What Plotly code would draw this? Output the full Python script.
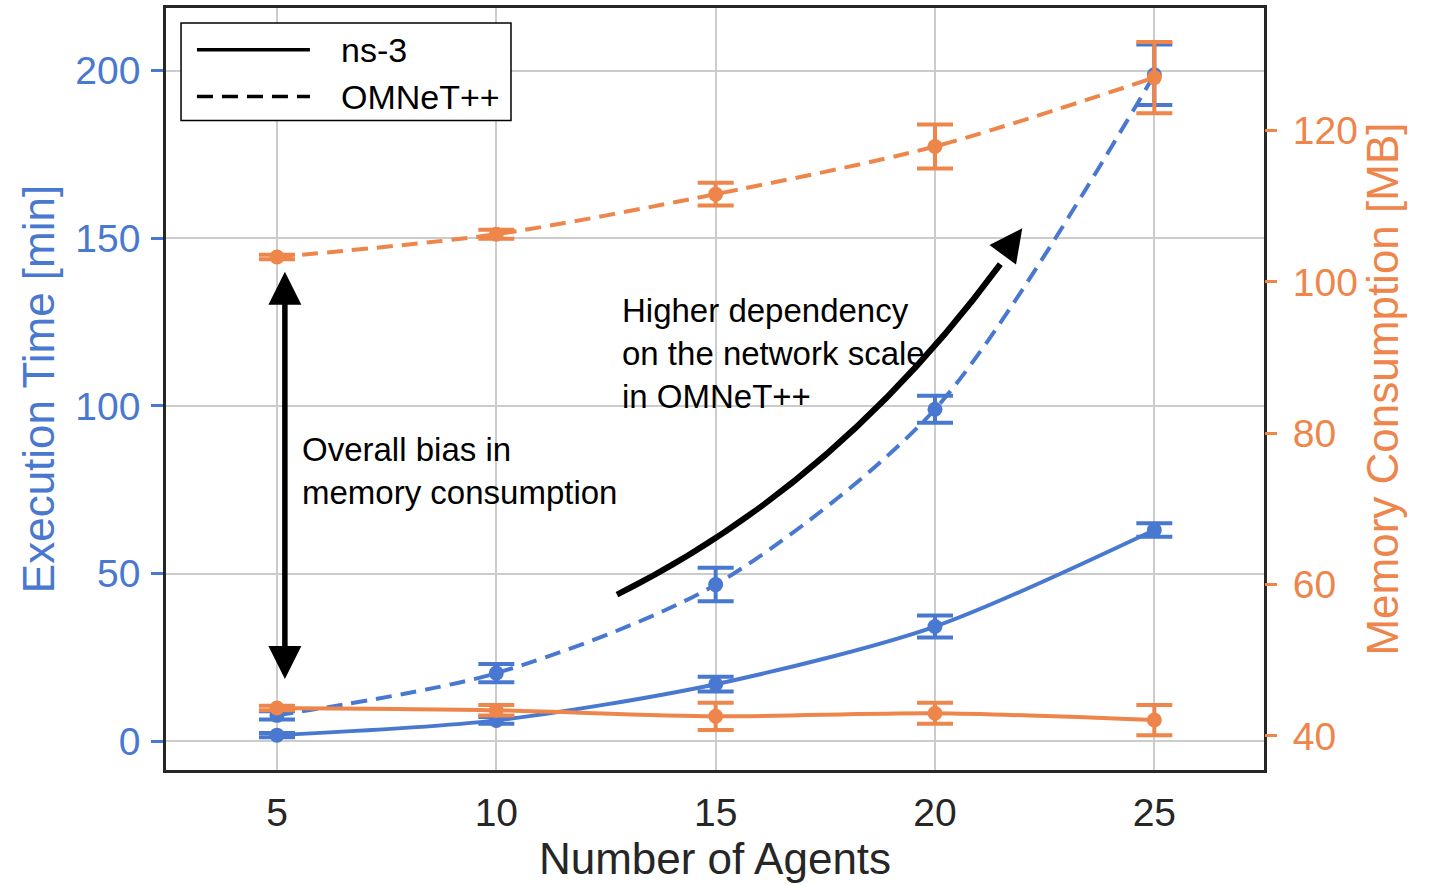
import plotly.graph_objects as go

# ---------------- data ----------------
agents = [5, 10, 15, 20, 25]

time_ns3 = [1.8, 6.2, 17.0, 34.2, 63.0]
time_ns3_err = [0.6, 1.0, 2.2, 3.3, 2.0]
time_omnet = [7.7, 20.3, 46.7, 99.0, 198.8]
time_omnet_err = [1.2, 2.7, 5.0, 4.0, 9.0]

mem_ns3 = [43.7, 43.4, 42.6, 43.0, 42.1]
mem_ns3_err = [0.3, 0.7, 1.8, 1.4, 2.0]
mem_omnet = [103.3, 106.3, 111.6, 117.9, 127.0]
mem_omnet_err = [0.3, 0.6, 1.5, 2.9, 4.7]

x_ticks = [5, 10, 15, 20, 25]
y_ticks = [0, 50, 100, 150, 200]
y2_ticks = [40, 60, 80, 100, 120]

BLUE = "#4878d0"
ORANGE = "#ee854a"
DARK = "#262626"
FONT = "Liberation Sans, Arial, sans-serif"
DASH = "16px,9px"

fig = go.Figure()


def add_series(y, err, color, dash, yaxis):
    fig.add_trace(go.Scatter(
        x=agents, y=y, yaxis=yaxis, mode="lines+markers",
        line=dict(color=color, width=4, dash=dash, shape="spline", smoothing=0.8),
        marker=dict(color=color, size=15),
        error_y=dict(type="data", array=err, visible=True, color=color,
                     thickness=4, width=18),
        showlegend=False,
    ))


add_series(time_omnet, time_omnet_err, BLUE, DASH, "y")
add_series(time_ns3, time_ns3_err, BLUE, "solid", "y")
add_series(mem_ns3, mem_ns3_err, ORANGE, "solid", "y2")
add_series(mem_omnet, mem_omnet_err, ORANGE, DASH, "y2")

# ---------------- legend (drawn manually for long line samples) ----------------
fig.add_shape(type="rect", xref="paper", yref="paper",
              x0=0.0137, x1=0.3142, y0=0.8523, y1=0.9804,
              line=dict(color="black", width=1.5), fillcolor="white", layer="above")
fig.add_shape(type="line", xref="paper", yref="paper",
              x0=0.0282, x1=0.1311, y0=0.9451, y1=0.9451,
              line=dict(color="black", width=3.5), layer="above")
fig.add_shape(type="line", xref="paper", yref="paper",
              x0=0.0282, x1=0.1311, y0=0.8837, y1=0.8837,
              line=dict(color="black", width=3.5, dash=DASH), layer="above")
for label, yy in [("ns-3", 0.9451), ("OMNeT++", 0.8837)]:
    fig.add_annotation(text=label, xref="paper", yref="paper", x=0.1575, y=yy,
                       xanchor="left", yanchor="middle", showarrow=False,
                       font=dict(family=FONT, size=34, color="black"))

# ---------------- annotations ----------------
fig.add_annotation(text="Overall bias in<br>memory consumption", x=5.52, y=80.5,
                   xref="x", yref="y", xanchor="left", yanchor="middle", align="left",
                   showarrow=False, font=dict(family=FONT, size=33, color="black"))
fig.add_annotation(text="Higher dependency<br>on the network scale<br>in OMNeT++", x=12.82, y=115.6,
                   xref="x", yref="y", xanchor="left", yanchor="middle", align="left",
                   showarrow=False, font=dict(family=FONT, size=33, color="black"))

# double arrow
fig.add_annotation(text="", x=5.18, y=140, ax=5.18, ay=18.1,
                   xref="x", yref="y", axref="x", ayref="y",
                   showarrow=True, arrowside="end+start",
                   arrowhead=2, startarrowhead=2, arrowsize=1.2, startarrowsize=1.2,
                   arrowwidth=5.5, arrowcolor="black", standoff=0, startstandoff=0)

# curved arrow body
fig.add_shape(type="path", xref="x", yref="y",
              path="M 12.75,43.7 Q 17.77,76.4 21.49,142.3",
              line=dict(color="black", width=6), layer="above")
# curved arrow head
fig.add_annotation(text="", x=21.99, y=153, ax=21.54, ay=145,
                   xref="x", yref="y", axref="x", ayref="y",
                   showarrow=True, arrowhead=2, arrowsize=1.2,
                   arrowwidth=5.5, arrowcolor="black", standoff=0)

# ---------------- layout ----------------
fig.update_layout(
    width=1432, height=885,
    margin=dict(l=166, r=168, t=5, b=115),
    plot_bgcolor="white", paper_bgcolor="white",
    font=dict(family=FONT, color=DARK),
    xaxis=dict(
        range=[2.47, 27.5], tickvals=x_ticks, ticks="outside", ticklen=6,
        tickcolor="rgba(0,0,0,0)",
        tickfont=dict(size=39, color=DARK, family=FONT),
        showgrid=True, gridcolor="#cccccc", gridwidth=2,
        showline=True, linecolor=DARK, linewidth=2.5, mirror=True,
        zeroline=False,
        title=dict(text="Number of Agents", font=dict(size=44, color=DARK, family=FONT), standoff=6),
    ),
    yaxis=dict(
        range=[-8.6, 218.7], tickvals=y_ticks, ticks="outside", ticklen=12, tickwidth=2.5,
        tickcolor=BLUE, ticklabelstandoff=3,
        tickfont=dict(size=39, color=BLUE, family=FONT),
        showgrid=True, gridcolor="#cccccc", gridwidth=2,
        showline=True, linecolor=DARK, linewidth=2.5, mirror=True,
        zeroline=False,
        title=dict(text="Execution Time [min]", font=dict(size=44, color=BLUE, family=FONT), standoff=7),
    ),
    yaxis2=dict(
        range=[35.5, 136.2], tickvals=y2_ticks, ticks="outside", ticklen=12, tickwidth=2.5,
        tickcolor=ORANGE, overlaying="y", side="right", ticklabelstandoff=8,
        tickfont=dict(size=39, color=ORANGE, family=FONT),
        showgrid=False, zeroline=False, showline=False,
        title=dict(text="Memory Consumption [MB]", font=dict(size=44, color=ORANGE, family=FONT), standoff=10),
    ),
)

fig.write_html("out.html")
